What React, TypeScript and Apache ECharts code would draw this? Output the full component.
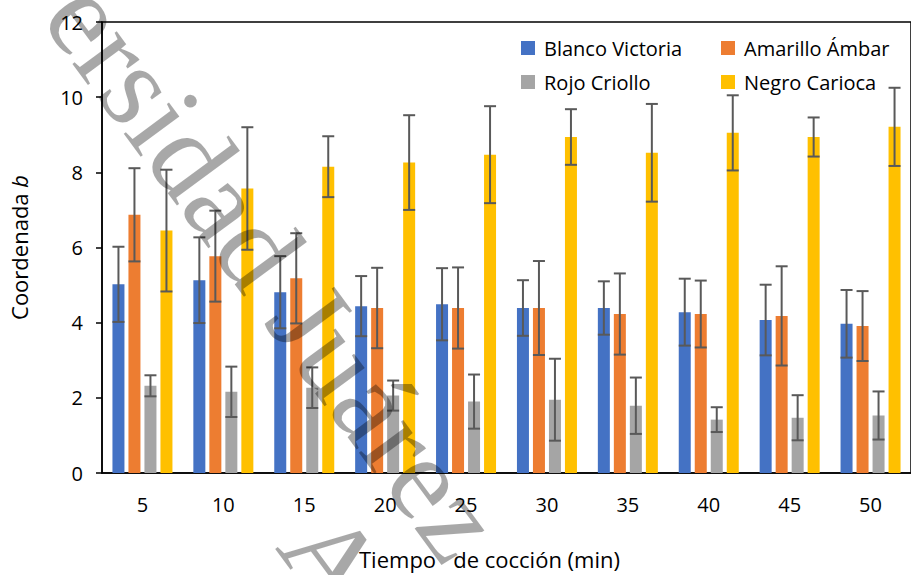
import React, { useEffect, useRef } from 'react';
import * as echarts from 'echarts';

const categories = ['5', '10', '15', '20', '25', '30', '35', '40', '45', '50'];
const seriesNames = ['Blanco Victoria', 'Amarillo Ámbar', 'Rojo Criollo', 'Negro Carioca'];
const colors = ['#4472C4', '#ED7D31', '#A5A5A5', '#FFC000'];

const blanco = [5.02, 5.13, 4.81, 4.44, 4.49, 4.39, 4.39, 4.28, 4.07, 3.97];
const blancoErr = [1.0, 1.14, 0.96, 0.8, 0.96, 0.74, 0.71, 0.89, 0.94, 0.9];
const amarillo = [6.87, 5.77, 5.18, 4.39, 4.39, 4.39, 4.23, 4.23, 4.18, 3.91];
const amarilloErr = [1.24, 1.21, 1.2, 1.07, 1.08, 1.25, 1.08, 0.89, 1.32, 0.93];
const rojo = [2.32, 2.16, 2.27, 2.06, 1.9, 1.95, 1.79, 1.42, 1.47, 1.53];
const rojoErr = [0.28, 0.67, 0.54, 0.4, 0.72, 1.09, 0.75, 0.33, 0.6, 0.64];
const negro = [6.45, 7.57, 8.15, 8.26, 8.47, 8.94, 8.52, 9.05, 8.94, 9.21];
const negroErr = [1.62, 1.63, 0.81, 1.26, 1.29, 0.74, 1.3, 1.0, 0.52, 1.04];

const yTicks = [0, 2, 4, 6, 8, 10, 12];

const values = [blanco, amarillo, rojo, negro];
const errors = [blancoErr, amarilloErr, rojoErr, negroErr];

const BAR_W = 12;
const BAR_GAP = 4;
const CAP = 6;
const ERR_COLOR = '#595959';
const FONT = '"Open Sans", sans-serif';
const WM_FONT = '120px "Liberation Serif"';
const WM_FILL = 'rgba(0,0,0,0.34)';

export default function App() {
  const ref = useRef<HTMLDivElement>(null);
  useEffect(() => {
    document.body.style.margin = '0';
    const chart = echarts.init(ref.current as HTMLDivElement, null, { renderer: 'svg' });

    const errData: number[][] = [];
    values.forEach((vals, s) => {
      vals.forEach((v, i) => {
        errData.push([i, v - errors[s][i], v + errors[s][i], s]);
      });
    });

    const barSeries = values.map((vals, s) => ({
      name: seriesNames[s],
      type: 'bar',
      data: vals,
      barWidth: BAR_W,
      barGap: (BAR_GAP / BAR_W) * 100 + '%',
      itemStyle: { color: colors[s] },
      z: 2,
    }));

    const legendBase = {
      orient: 'vertical',
      top: 38,
      padding: 0,
      itemWidth: 14,
      itemHeight: 14,
      itemGap: 14,
      icon: 'rect',
      textStyle: { fontSize: 20, color: '#000', fontFamily: FONT, padding: [0, 0, 0, 4] },
    };

    const option: any = {
      animation: false,
      textStyle: { fontFamily: FONT },
      grid: {
        left: 102,
        top: 22,
        right: -10,
        bottom: 100,
        show: true,
        borderColor: '#000',
        borderWidth: 1.5,
        containLabel: false,
      },
      legend: [
        { ...legendBase, left: 521, data: [seriesNames[0], seriesNames[2]] },
        { ...legendBase, left: 721, data: [seriesNames[1], seriesNames[3]] },
      ],
      xAxis: {
        type: 'category',
        data: categories,
        axisLine: { lineStyle: { color: '#000', width: 1.5 } },
        axisTick: { show: false },
        axisLabel: { fontSize: 20, color: '#000', margin: 21, fontFamily: FONT },
        name: 'Tiempo   de cocción (min)',
        nameLocation: 'middle',
        nameGap: 75,
        nameTextStyle: { fontSize: 22, color: '#000', fontFamily: FONT, padding: [0, 34, 0, 0] },
      },
      yAxis: {
        type: 'value',
        min: yTicks[0],
        max: yTicks[yTicks.length - 1],
        interval: 2,
        splitLine: { show: false },
        axisLine: { show: true, lineStyle: { color: '#000', width: 1.5 } },
        axisTick: { show: true, length: 6, lineStyle: { color: '#000', width: 1.5 } },
        axisLabel: { fontSize: 20, color: '#000', margin: 19, fontFamily: FONT },
        name: '{a|Coordenada }{b|b}',
        nameLocation: 'middle',
        nameGap: 72,
        nameTextStyle: {
          fontSize: 22,
          color: '#000',
          rich: {
            a: { fontSize: 22, color: '#000', fontFamily: FONT },
            b: { fontSize: 22, color: '#000', fontFamily: FONT, fontStyle: 'italic' },
          },
        },
      },
      series: [
        ...barSeries,
        {
          type: 'custom',
          name: 'err',
          data: errData,
          encode: { x: 0, y: [1, 2] },
          z: 3,
          renderItem: (params: any, api: any) => {
            const cat = api.value(0);
            const lo = api.value(1);
            const hi = api.value(2);
            const s = api.value(3);
            const pLo = api.coord([cat, lo]);
            const pHi = api.coord([cat, hi]);
            const x = pLo[0] + (s - 1.5) * (BAR_W + BAR_GAP);
            const st = { stroke: ERR_COLOR, lineWidth: 2 };
            return {
              type: 'group',
              children: [
                { type: 'line', shape: { x1: x, y1: pHi[1], x2: x, y2: pLo[1] }, style: st },
                { type: 'line', shape: { x1: x - CAP, y1: pHi[1], x2: x + CAP, y2: pHi[1] }, style: st },
                { type: 'line', shape: { x1: x - CAP, y1: pLo[1], x2: x + CAP, y2: pLo[1] }, style: st },
              ],
            };
          },
        },
      ],
      graphic: [
        {
          type: 'text',
          x: 72,
          y: -5,
          rotation: -0.936,
          z: 100,
          silent: true,
          style: {
            text: 'ersidad Juárez  Autónoma de Tabasco',
            font: WM_FONT,
            fill: WM_FILL,
            textAlign: 'left',
            textVerticalAlign: 'middle',
          },
        },
        {
          type: 'text',
          x: 307,
          y: 524,
          rotation: -0.936,
          z: 100,
          silent: true,
          style: {
            text: 'Autónoma',
            font: WM_FONT,
            fill: WM_FILL,
            textAlign: 'left',
            textVerticalAlign: 'middle',
          },
        },
      ],
    };

    chart.setOption(option);
    return () => chart.dispose();
  }, []);
  return <div ref={ref} style={{ position: 'absolute', left: 0, top: 0, width: 911, height: 575 }} />;
}
